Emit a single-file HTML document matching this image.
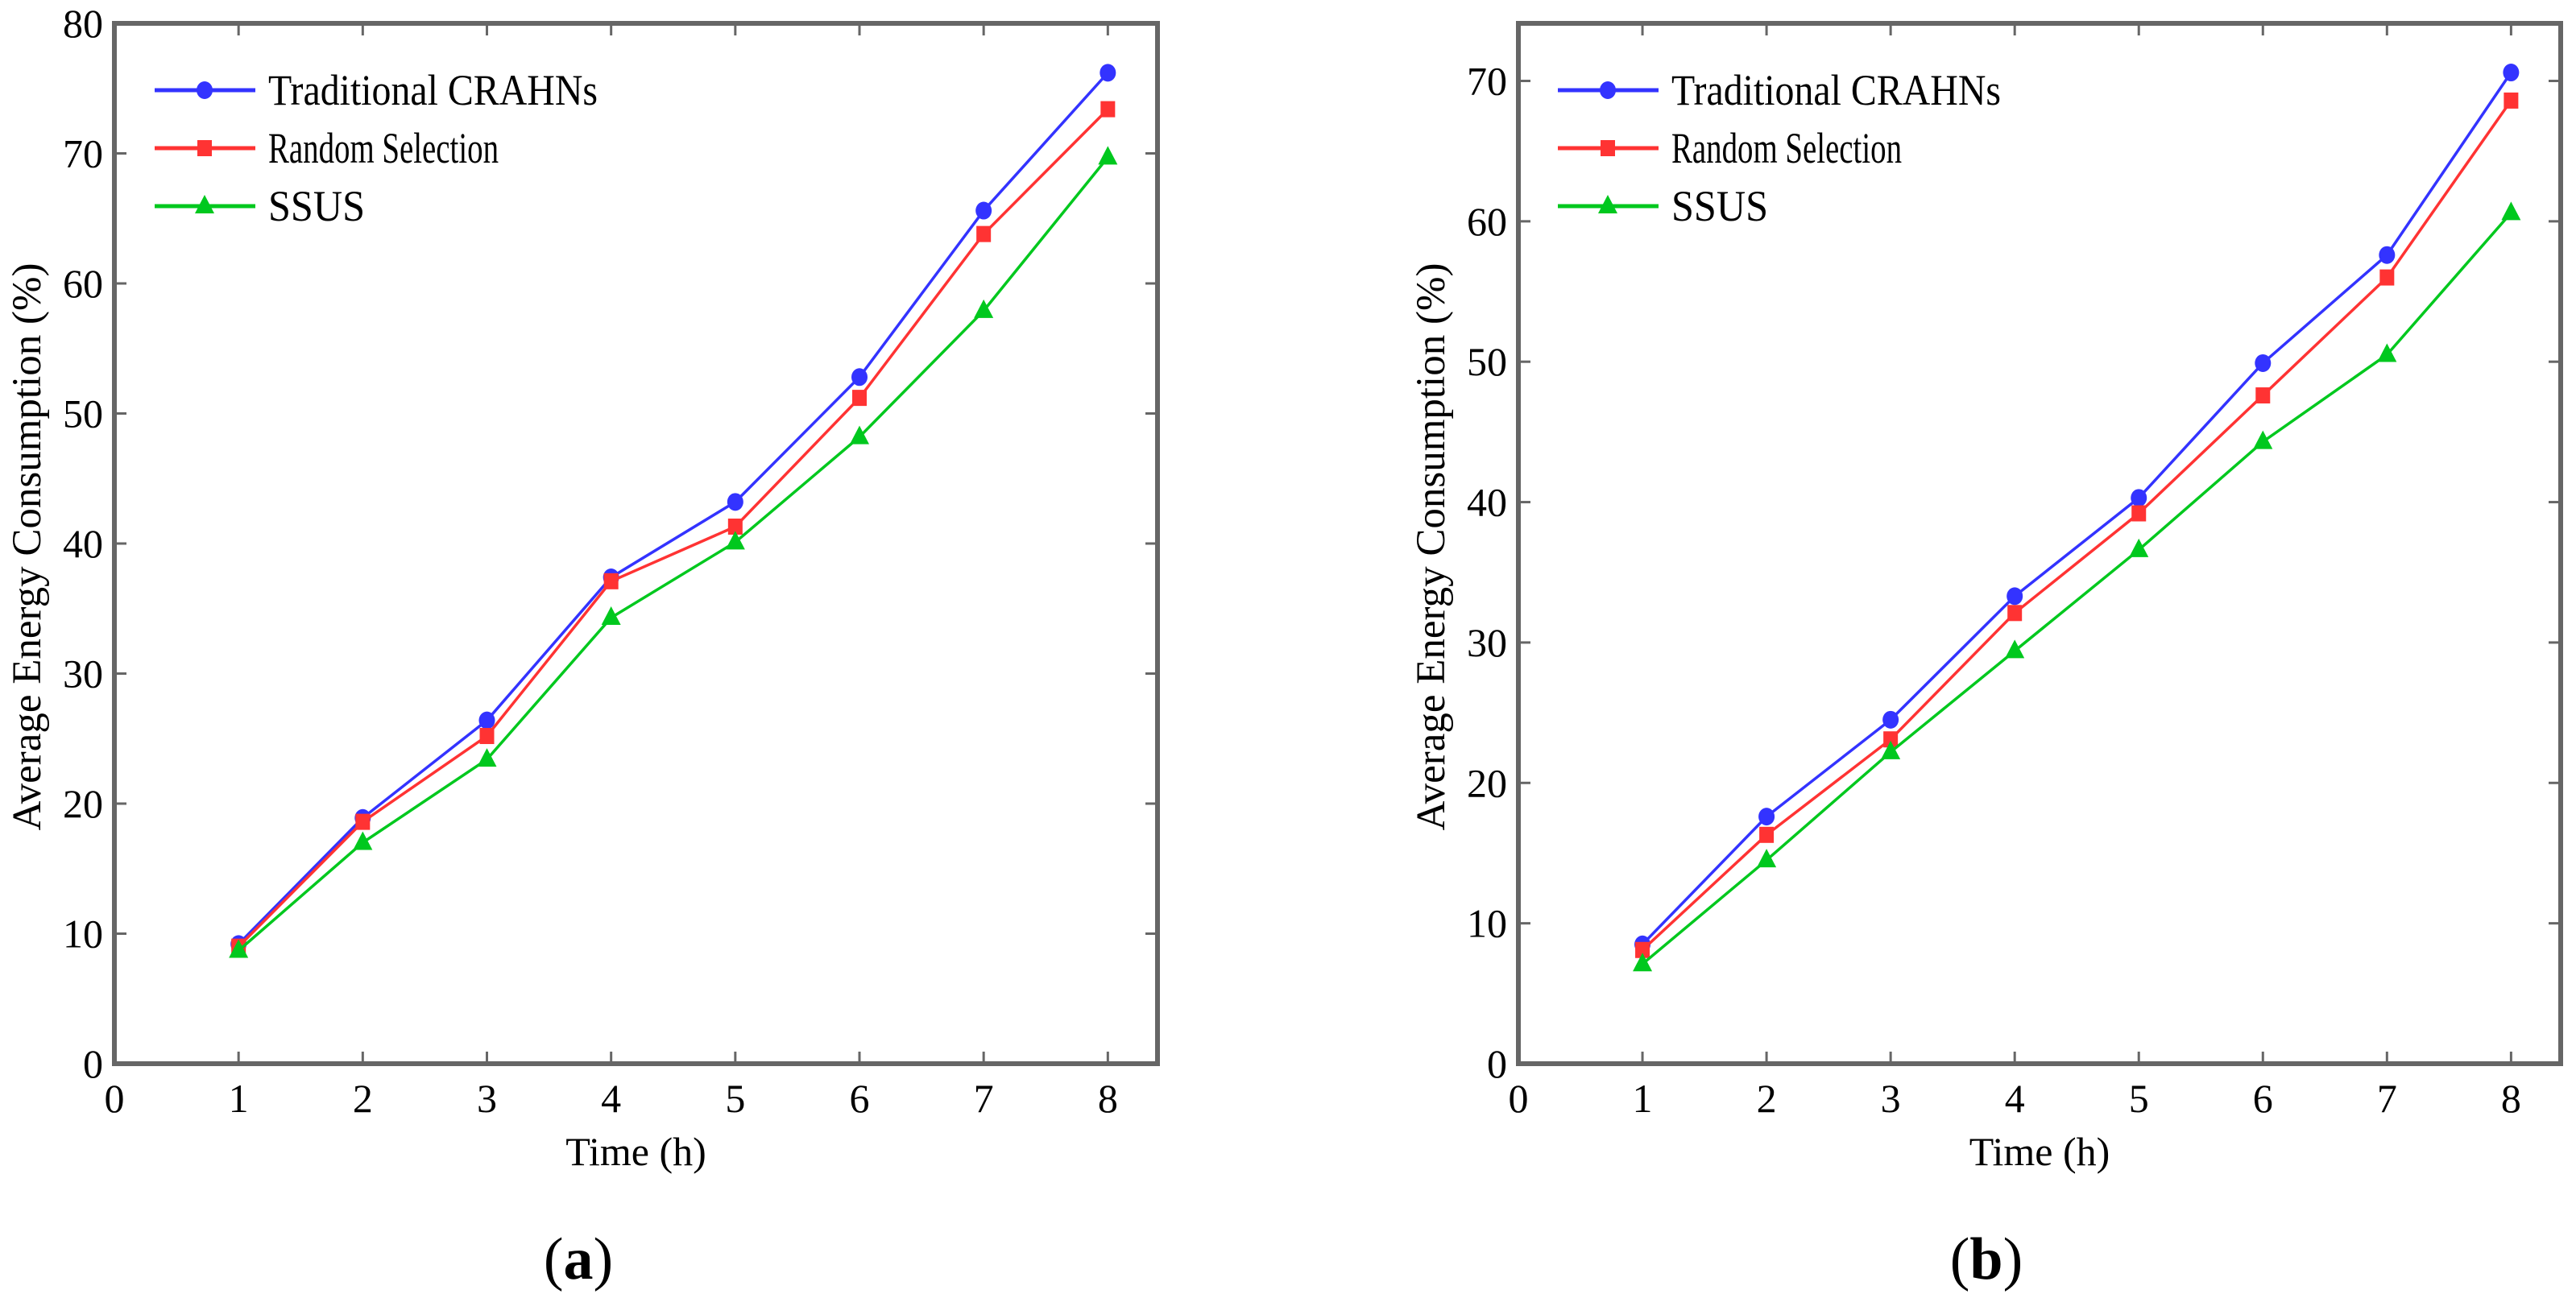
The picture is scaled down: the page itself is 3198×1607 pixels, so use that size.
<!DOCTYPE html>
<html><head><meta charset="utf-8"><style>
html,body{margin:0;padding:0;background:#fff;}
svg{display:block;font-family:"Liberation Serif","Times New Roman",serif;}
svg text{font-family:"Liberation Serif","Times New Roman",serif;}
</style></head><body>
<svg id="chart" width="3198" height="1607" viewBox="0 0 3198 1607" xmlns="http://www.w3.org/2000/svg"></svg>
<script>
const xTicks = [0,1,2,3,4,5,6,7,8];
const hours = [1,2,3,4,5,6,7,8];
const seriesNames = ["Traditional CRAHNs","Random Selection","SSUS"];
const aTrad = [9.2,18.9,26.4,37.4,43.2,52.8,65.6,76.2];
const aRand = [9.0,18.6,25.2,37.1,41.3,51.2,63.8,73.4];
const aSsus = [8.7,17.0,23.4,34.3,40.1,48.2,57.9,69.7];
const bTrad = [8.5,17.6,24.5,33.3,40.3,49.9,57.6,70.6];
const bRand = [8.1,16.3,23.1,32.1,39.2,47.6,56.0,68.6];
const bSsus = [7.1,14.5,22.2,29.4,36.6,44.3,50.5,60.6];
const aYTicks = [0,10,20,30,40,50,60,70,80];
const bYTicks = [0,10,20,30,40,50,60,70];

const NS="http://www.w3.org/2000/svg";
const FONT='"Liberation Serif", "Times New Roman", serif';
const svg=document.getElementById('chart');
const colors=["#3333ff","#ff3333","#00c81e"];
const markers=["circle","square","triangle"];
const legendWidths=[409,286,120];
function mk(tag,attrs,parent){const e=document.createElementNS(NS,tag);for(const k in attrs)e.setAttribute(k,attrs[k]);if(tag==='text')e.setAttribute('font-family',FONT);(parent||svg).appendChild(e);return e;}
function marker(g,type,x,y,c){
  let m;
  if(type==="circle"){m=mk('ellipse',{cx:x,cy:y,rx:10,ry:11,fill:c},g);}
  else if(type==="square"){m=mk('rect',{x:x-9,y:y-10,width:18,height:20,fill:c},g);}
  else {m=mk('polygon',{points:`${x},${y-14} ${x-12},${y+9} ${x+12},${y+9}`,fill:c},g);}
  return m;
}
function panel(p){
  const L=p.left,R=p.right,T=29,B=1321;
  const xs=v=>L+(v-0)/(8.4)*(R-L);
  const ys=v=>B-v/p.ymax*(B-T);
  const g=mk('g',{});
  
  
  xTicks.forEach(t=>{
    const x=xs(t);
    if(t>0){
      const tk=mk('line',{x1:x,y1:B,x2:x,y2:B-15,stroke:'#666','stroke-width':3},g);
      
      
      const tk2=mk('line',{x1:x,y1:T,x2:x,y2:T+15,stroke:'#666','stroke-width':3},g);
      
      
    }
    const lb=mk('text',{x:x,y:B+60,'font-size':50,'text-anchor':'middle',fill:'#000'},g);
    lb.textContent=t;
    
    
  });
  p.yTicks.forEach(t=>{
    const y=ys(t);
    if(t>0&&y>T+2){
      const tk=mk('line',{x1:L,y1:y,x2:L+15,y2:y,stroke:'#666','stroke-width':3},g);
      
      
      const tk2=mk('line',{x1:R,y1:y,x2:R-15,y2:y,stroke:'#666','stroke-width':3},g);
      
      
    }
    const lb=mk('text',{x:L-14,y:y+17,'font-size':50,'text-anchor':'end',fill:'#000'},g);
    lb.textContent=t;
    
    
  });
  const box=mk('rect',{x:L,y:T,width:R-L,height:B-T,fill:'none',stroke:'#666','stroke-width':6},g);
  
  
  p.series.forEach((vals,i)=>{
    const sg=mk('g',{},g);
    
    
    const pts=vals.map((v,j)=>xs(hours[j])+','+ys(v)).join(' ');
    const pl=mk('polyline',{points:pts,fill:'none',stroke:colors[i],'stroke-width':3.5},sg);
    
    
    vals.forEach((v,j)=>{
      const m=marker(sg,markers[i],xs(hours[j]),ys(v),colors[i]);
      
      
    });
  });
  const lg=mk('g',{},g);
  
  
  seriesNames.forEach((n,i)=>{
    const y=112+i*72;
    const eg=mk('g',{},lg);
    
    
    mk('line',{x1:p.legX,y1:y,x2:p.legX+125,y2:y,stroke:colors[i],'stroke-width':5},eg);
    marker(eg,markers[i],p.legX+62,y,colors[i]);
    const t=mk('text',{x:p.legX+141,y:y+18,'font-size':54,fill:'#000',textLength:legendWidths[i],lengthAdjust:'spacingAndGlyphs'},eg);
    t.textContent=n;
  });
  const xt=mk('text',{x:(L+R)/2,y:1447,'font-size':50,'text-anchor':'middle',fill:'#000'},g);
  xt.textContent='Time (h)';
  
  
  const yt=mk('text',{x:0,y:0,'font-size':51,'text-anchor':'middle',fill:'#000',transform:`translate(${p.yTitleX},679) rotate(-90)`},g);
  yt.textContent='Average Energy Consumption (%)';
  
  
  const cap=mk('text',{x:p.capX,y:1588,'font-size':74,'text-anchor':'middle',fill:'#000'},g);
  cap.innerHTML=`(<tspan font-weight="bold">${p.cap}</tspan>)`;
  
  
}
panel({id:'panel-a',left:142,right:1437,ymax:80,yTicks:aYTicks,series:[aTrad,aRand,aSsus],legX:192,yTitleX:50,capX:718,cap:'a'});
panel({id:'panel-b',left:1885,right:3179,ymax:74.1,yTicks:bYTicks,series:[bTrad,bRand,bSsus],legX:1934,yTitleX:1793,capX:2466,cap:'b'});
</script>
</body></html>
